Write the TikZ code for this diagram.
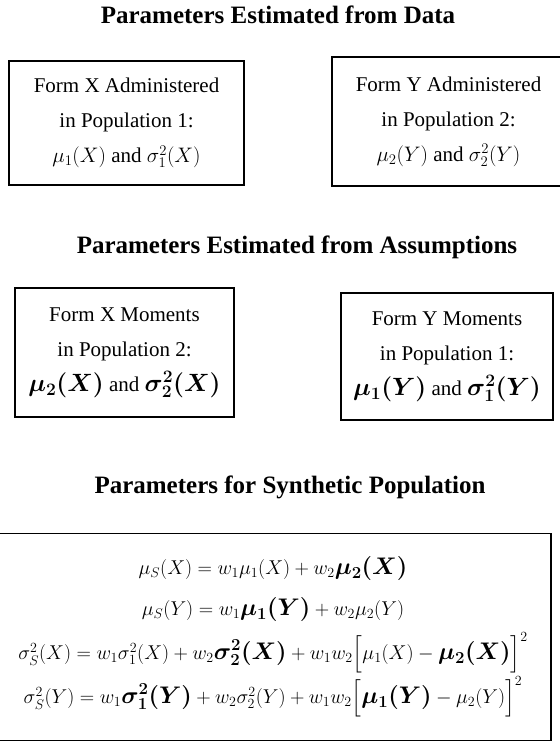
\RequirePackage{fix-cm}
\documentclass[tikz,border=0pt]{standalone}
\usepackage{amsmath}
\usepackage{bm}
\usepackage{fontspec}
\setmainfont{Liberation Serif}
\newcommand{\bigmom}[1]{\text{\fontsize{25}{28}\selectfont$\bm{#1}$}}
\newcommand{\synmom}[1]{\text{\fontsize{24}{27}\selectfont$\bm{#1}$}}
\begin{document}
\begin{tikzpicture}[
  x=1pt, y=-1pt,
  heading/.style={font=\fontsize{25}{30}\selectfont\bfseries},
  databox/.style={draw=black, line width=1.6pt, align=center, inner sep=0pt,
    font=\fontsize{21}{35}\selectfont},
  every node/.style={text=black}
]
  \useasboundingbox (0,0) rectangle (559,743);

  \node[heading] (h1) at (278,15) {Parameters Estimated from Data};
  \node[databox, minimum width=235pt, minimum height=124pt] (fx1) at (126.5,123)
    {Form X Administered\\ in Population 1:\\ $\mu_1(X)$ and $\sigma_1^2(X)$};
  \node[databox, minimum width=233pt, minimum height=129pt] (fy2) at (448.5,121.5)
    {Form Y Administered\\ in Population 2:\\ $\mu_2(Y)$ and $\sigma_2^2(Y)$};

  \node[heading] (h2) at (297,247) {Parameters Estimated from Assumptions};
  \node[databox, minimum width=219pt, minimum height=129pt] (fx2) at (124.5,352.5)
    {Form X Moments\\ in Population 2:\\ $\bigmom{\mu_2(X)}$ and $\bigmom{\sigma_2^2(X)}$};
  \node[databox, minimum width=212pt, minimum height=127pt] (fy1) at (447,356.5)
    {Form Y Moments\\ in Population 1:\\ $\bigmom{\mu_1(Y)}$ and $\bigmom{\sigma_1^2(Y)}$};

  \node[heading] (h3) at (290,487) {Parameters for Synthetic Population};
  \node[databox, minimum width=556pt, minimum height=207pt,
    font=\fontsize{20}{41}\selectfont] (synth) at (273,637)
    {$\mu_S(X) = w_1\mu_1(X) + w_2\synmom{\mu_2(X)}$\\
     $\mu_S(Y) = w_1\synmom{\mu_1(Y)} + w_2\mu_2(Y)$\\[3pt]
     $\sigma_S^2(X) = w_1\sigma_1^2(X) + w_2\synmom{\sigma_2^2(X)} + w_1w_2\Bigl[\mu_1(X) - \synmom{\mu_2(X)}\Bigr]^2$\\[3pt]
     $\sigma_S^2(Y) = w_1\synmom{\sigma_1^2(Y)} + w_2\sigma_2^2(Y) + w_1w_2\Bigl[\synmom{\mu_1(Y)} - \mu_2(Y)\Bigr]^2$};
\end{tikzpicture}
\end{document}
